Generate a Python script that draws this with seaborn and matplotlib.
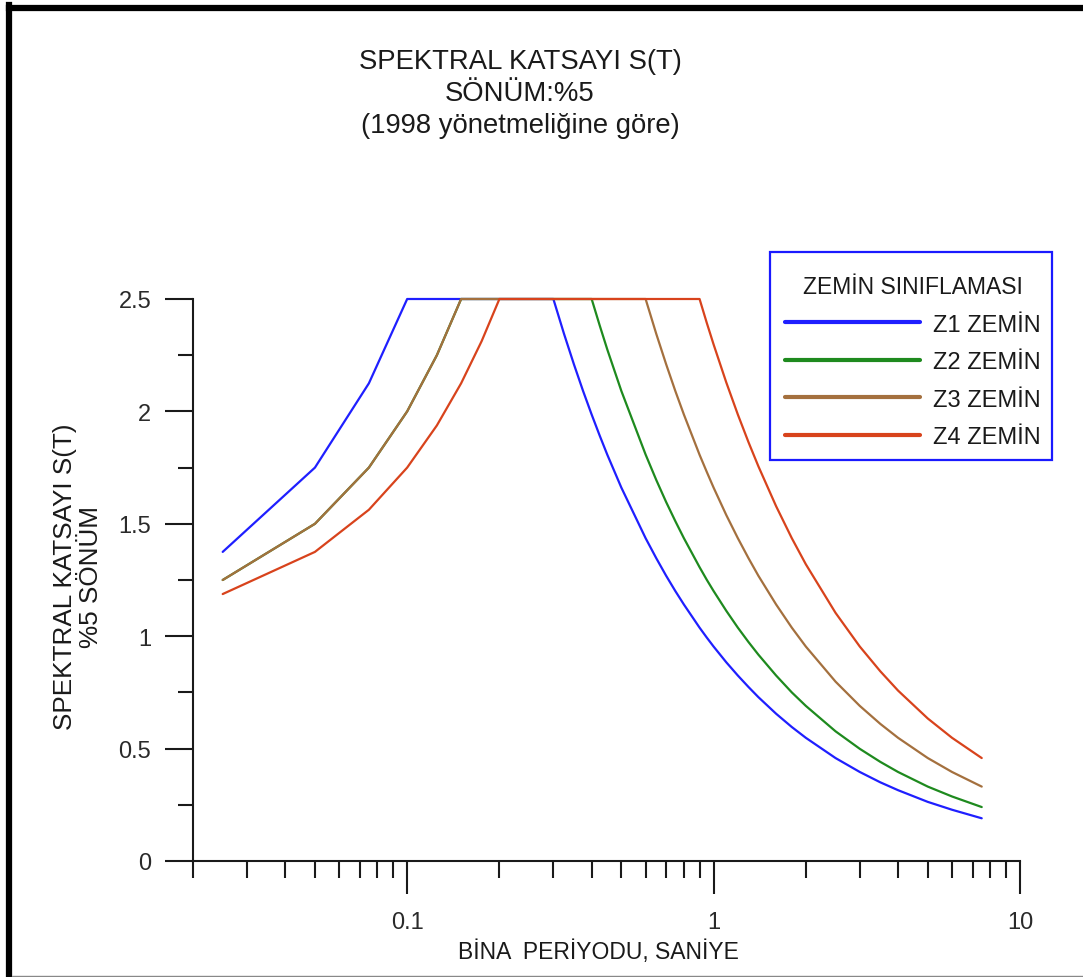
import matplotlib
matplotlib.use("Agg")
import matplotlib.pyplot as plt
from matplotlib.lines import Line2D
from matplotlib.patches import Rectangle
from matplotlib.ticker import FixedLocator, NullFormatter, FixedFormatter
import seaborn as sns
import pandas as pd

# Building period T (s)
period = [0.025, 0.05, 0.075, 0.1, 0.125, 0.15, 0.175, 0.2, 0.25, 0.3,
          0.325, 0.35, 0.375, 0.4, 0.425, 0.45, 0.5, 0.6, 0.65, 0.7,
          0.75, 0.8, 0.9, 0.95, 1.0, 1.1, 1.2, 1.3, 1.4, 1.6,
          1.8, 2.0, 2.5, 3.0, 3.5, 4.0, 5.0, 6.0, 7.5]

# Spectral coefficient S(T) for each soil class
z1 = [1.375, 1.75, 2.125, 2.5, 2.5, 2.5, 2.5, 2.5, 2.5, 2.5,
      2.345, 2.210, 2.091, 1.986, 1.892, 1.807, 1.661, 1.436, 1.347, 1.269,
      1.201, 1.141, 1.038, 0.994, 0.954, 0.884, 0.825, 0.774, 0.729, 0.655,
      0.596, 0.548, 0.458, 0.396, 0.350, 0.315, 0.263, 0.228, 0.190]
z2 = [1.25, 1.5, 1.75, 2.0, 2.25, 2.5, 2.5, 2.5, 2.5, 2.5,
      2.5, 2.5, 2.5, 2.5, 2.382, 2.275, 2.091, 1.808, 1.695, 1.597,
      1.512, 1.436, 1.307, 1.251, 1.201, 1.113, 1.038, 0.974, 0.918, 0.825,
      0.750, 0.690, 0.577, 0.499, 0.441, 0.396, 0.331, 0.287, 0.240]
z3 = [1.25, 1.5, 1.75, 2.0, 2.25, 2.5, 2.5, 2.5, 2.5, 2.5,
      2.5, 2.5, 2.5, 2.5, 2.5, 2.5, 2.5, 2.5, 2.345, 2.210,
      2.091, 1.986, 1.807, 1.731, 1.661, 1.539, 1.436, 1.347, 1.269, 1.141,
      1.038, 0.954, 0.798, 0.690, 0.610, 0.548, 0.458, 0.396, 0.331]
z4 = [1.1875, 1.375, 1.5625, 1.75, 1.9375, 2.125, 2.3125, 2.5, 2.5, 2.5,
      2.5, 2.5, 2.5, 2.5, 2.5, 2.5, 2.5, 2.5, 2.5, 2.5,
      2.5, 2.5, 2.5, 2.394, 2.298, 2.129, 1.986, 1.863, 1.756, 1.578,
      1.436, 1.320, 1.104, 0.954, 0.844, 0.758, 0.634, 0.548, 0.458]

series_names = ["Z1 ZEMİN", "Z2 ZEMİN", "Z3 ZEMİN", "Z4 ZEMİN"]
series_values = [z1, z2, z3, z4]
colors = ["#1f1fff", "#1e8a1e", "#a4703e", "#d8431c"]

x_major = [0.1, 1, 10]
x_major_labels = ["0.1", "1", "10"]
y_major = [0, 0.5, 1, 1.5, 2, 2.5]
y_major_labels = ["0", "0.5", "1", "1.5", "2", "2.5"]

rows = []
for name, vals in zip(series_names, series_values):
    for t, s in zip(period, vals, strict=True):
        rows.append({"T": t, "S": s, "Zemin": name})
df = pd.DataFrame(rows)

sns.set_style("ticks")
plt.rcParams["font.family"] = ["Liberation Sans", "DejaVu Sans"]

W, H = 1083, 978
fig = plt.figure(figsize=(W / 100, H / 100), dpi=100)
fig.patch.set_facecolor("white")

ax_left, ax_right, ax_bottom, ax_top = 193, 1020, 862, 300
ax = fig.add_axes([ax_left / W, 1 - ax_bottom / H,
                   (ax_right - ax_left) / W, (ax_bottom - ax_top) / H])

sns.lineplot(data=df, x="T", y="S", hue="Zemin", palette=colors,
             hue_order=series_names, estimator=None, sort=False,
             linewidth=1.6, ax=ax, legend=False, clip_on=False)

ax.set_xscale("log")
ax.set_xlim(0.02, 10)
ax.set_ylim(0, 2.5)

axis_color = "#1a1a1a"
for side in ["top", "right"]:
    ax.spines[side].set_visible(False)
for side in ["left", "bottom"]:
    ax.spines[side].set_linewidth(1.5)
    ax.spines[side].set_color(axis_color)

ax.xaxis.set_major_locator(FixedLocator(x_major))
ax.xaxis.set_major_formatter(FixedFormatter(x_major_labels))
x_minor = [m * d for d in (0.01, 0.1, 1) for m in range(2, 10)]
ax.xaxis.set_minor_locator(FixedLocator([v for v in x_minor if v >= 0.02]))
ax.xaxis.set_minor_formatter(NullFormatter())

ax.yaxis.set_major_locator(FixedLocator(y_major))
ax.yaxis.set_major_formatter(FixedFormatter(y_major_labels))
ax.yaxis.set_minor_locator(FixedLocator([0.25, 0.75, 1.25, 1.75, 2.25]))

ax.tick_params(axis="x", which="major", direction="out", length=24, width=1.5,
               color=axis_color, labelsize=17, pad=12, labelcolor="#2a2a2a")
ax.tick_params(axis="x", which="minor", direction="out", length=12, width=1.5,
               color=axis_color)
ax.tick_params(axis="y", which="major", direction="out", length=20, width=1.5,
               color=axis_color, labelsize=17, pad=10, labelcolor="#2a2a2a")
ax.tick_params(axis="y", which="minor", direction="out", length=11, width=1.5,
               color=axis_color)
ax.set_xlabel("")
ax.set_ylabel("")

# Legend: entries without frame, framed by a separate blue box
handles = [Line2D([0], [0], color=c, linewidth=3) for c in colors]
leg = ax.legend(handles, series_names, title="ZEMİN SINIFLAMASI",
                loc="upper left", bbox_to_anchor=(785 / W, 1 - 276 / H),
                bbox_transform=fig.transFigure, borderaxespad=0,
                fontsize=17, title_fontsize=16.5,
                handlelength=5.7, handletextpad=0.55, labelspacing=0.66,
                borderpad=0, frameon=False)
for txt in leg.get_texts():
    txt.set_color("#1a1a1a")
leg.get_title().set_color("#1a1a1a")

fig.add_artist(Rectangle((770 / W, 1 - 461 / H), (1052 - 770) / W,
                         (461 - 253) / H, transform=fig.transFigure,
                         facecolor="none", edgecolor="#1a1aff", linewidth=1.6))

# Titles and axis labels
text_color = "#1a1a1a"
title_lines = ["SPEKTRAL KATSAYI S(T)", "SÖNÜM:%5", "(1998 yönetmeliğine göre)"]
for line, base in zip(title_lines, [69, 101, 133]):
    fig.text(520 / W, 1 - base / H, line, ha="center", va="baseline",
             fontsize=19.8, color=text_color)

fig.text(598 / W, 1 - 952 / H, "BİNA  PERİYODU, SANİYE", ha="center",
         va="center", fontsize=16.5, color=text_color)
fig.text(78 / W, 1 - 577 / H, "SPEKTRAL KATSAYI S(T)\n%5 SÖNÜM",
         rotation=90, ha="center", va="center", multialignment="center",
         fontsize=18.8, linespacing=1.12, color=text_color)

# Page frame
fig.add_artist(Line2D([9 / W, 9 / W], [0, 1 - 6 / H], color="black",
                      linewidth=4.5, transform=fig.transFigure,
                      solid_capstyle="projecting"))
fig.add_artist(Line2D([9 / W, 1], [1 - 9 / H, 1 - 9 / H], color="black",
                      linewidth=4.5, transform=fig.transFigure,
                      solid_capstyle="projecting"))
fig.add_artist(Line2D([12 / W, 1], [1 - 977 / H, 1 - 977 / H], color="#888888",
                      linewidth=1.0, transform=fig.transFigure))

fig.savefig("out.png", dpi=100)
